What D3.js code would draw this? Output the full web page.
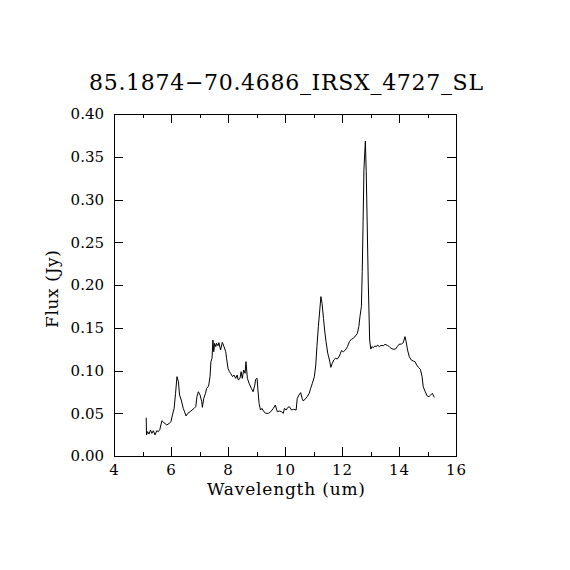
<!doctype html>
<html>
<head>
<meta charset="utf-8">
<title>85.1874-70.4686_IRSX_4727_SL</title>
<script src="https://d3js.org/d3.v7.min.js"></script>
<style>
 body { margin: 0; background: white; }
 text { font-family: "DejaVu Serif", "Liberation Serif", serif; fill: black; }
</style>
</head>
<body>
<script>
// spectrum: wavelength (um) and flux (Jy)
var wave = [5.13, 5.14, 5.18, 5.23, 5.28, 5.33, 5.38, 5.44, 5.50, 5.56, 5.61, 5.68, 5.75, 5.85, 5.94, 6.00,
  6.05, 6.11, 6.16, 6.21, 6.26, 6.30, 6.36, 6.43, 6.53, 6.59, 6.67, 6.74, 6.81, 6.87, 6.91, 6.96,
  7.02, 7.08, 7.10, 7.15, 7.21, 7.25, 7.32, 7.37, 7.40, 7.44, 7.47, 7.50, 7.53, 7.57, 7.60, 7.65,
  7.68, 7.74, 7.80, 7.86, 7.92, 7.95, 8.00, 8.05, 8.09, 8.16, 8.21, 8.27, 8.32, 8.36, 8.42, 8.46,
  8.50, 8.55, 8.60, 8.63, 8.68, 8.74, 8.82, 8.88, 8.94, 8.97, 9.02, 9.05, 9.09, 9.14, 9.19, 9.26,
  9.33, 9.42, 9.50, 9.59, 9.66, 9.73, 9.80, 9.88, 9.94, 9.98, 10.04, 10.09, 10.15, 10.23, 10.30,
  10.39, 10.43, 10.49, 10.55, 10.60, 10.64, 10.71, 10.78, 10.85, 10.90, 10.96, 11.03, 11.08, 11.12,
  11.17, 11.22, 11.26, 11.30, 11.35, 11.39, 11.44, 11.50, 11.56, 11.61, 11.66, 11.71, 11.77, 11.84,
  11.91, 11.98, 12.05, 12.12, 12.19, 12.26, 12.33, 12.40, 12.47, 12.54, 12.59, 12.63, 12.68, 12.71,
  12.74, 12.77, 12.82, 12.85, 12.89, 12.92, 12.97, 13.01, 13.05, 13.10, 13.15, 13.21, 13.25, 13.31,
  13.37, 13.45, 13.51, 13.59, 13.66, 13.72, 13.80, 13.88, 13.94, 14.00, 14.09, 14.15, 14.21, 14.25,
  14.30, 14.36, 14.43, 14.50, 14.56, 14.62, 14.68, 14.75, 14.81, 14.85, 14.92, 14.99, 15.05, 15.11,
  15.17, 15.24];
var flux = [0.0448, 0.0246, 0.0285, 0.0257, 0.0304, 0.0265, 0.0296, 0.0246, 0.0296, 0.0285, 0.0312, 0.0413,
  0.0390, 0.0363, 0.0382, 0.0402, 0.0480, 0.0557, 0.0733, 0.0928, 0.0869, 0.0713, 0.0655, 0.0557,
  0.0468, 0.0499, 0.0518, 0.0538, 0.0557, 0.0577, 0.0694, 0.0752, 0.0713, 0.0635, 0.0569, 0.0674,
  0.0733, 0.0791, 0.0819, 0.0928, 0.1103, 0.1142, 0.1357, 0.1220, 0.1318, 0.1279, 0.1318, 0.1290,
  0.1326, 0.1240, 0.1329, 0.1279, 0.1220, 0.1142, 0.1025, 0.0986, 0.0967, 0.0928, 0.0947, 0.0908,
  0.0947, 0.0889, 0.0908, 0.0986, 0.0908, 0.1006, 0.0967, 0.1103, 0.0908, 0.0850, 0.0791, 0.0752,
  0.0830, 0.0897, 0.0908, 0.0772, 0.0616, 0.0538, 0.0557, 0.0518, 0.0499, 0.0499, 0.0518, 0.0557,
  0.0596, 0.0518, 0.0526, 0.0518, 0.0499, 0.0557, 0.0538, 0.0565, 0.0577, 0.0538, 0.0546, 0.0538,
  0.0674, 0.0713, 0.0741, 0.0674, 0.0643, 0.0667, 0.0694, 0.0733, 0.0791, 0.0850, 0.0928, 0.1064,
  0.1279, 0.1513, 0.1708, 0.1864, 0.1786, 0.1610, 0.1474, 0.1337, 0.1201, 0.1123, 0.1037, 0.1084,
  0.1123, 0.1142, 0.1135, 0.1170, 0.1232, 0.1220, 0.1240, 0.1279, 0.1337, 0.1365, 0.1376, 0.1404,
  0.1435, 0.1513, 0.1630, 0.1747, 0.2156, 0.2740, 0.3353, 0.3684, 0.3325, 0.2608, 0.2047, 0.1357,
  0.1251, 0.1279, 0.1267, 0.1287, 0.1279, 0.1298, 0.1279, 0.1294, 0.1290, 0.1306, 0.1294, 0.1279,
  0.1259, 0.1248, 0.1251, 0.1279, 0.1306, 0.1310, 0.1326, 0.1396, 0.1337, 0.1240, 0.1162, 0.1123,
  0.1111, 0.1103, 0.1064, 0.1037, 0.1014, 0.0928, 0.0811, 0.0752, 0.0702, 0.0694, 0.0713, 0.0733,
  0.0686];

var xTicks = [4, 6, 8, 10, 12, 14, 16];
var xMinor = [5, 7, 9, 11, 13, 15];
var yTicks = [0, 0.05, 0.10, 0.15, 0.20, 0.25, 0.30, 0.35, 0.40];

var titel = "85.1874\u221270.4686_IRSX_4727_SL";

var W = 570, H = 570;
var x0 = 114, x1 = 456, y0 = 456, y1 = 114;

var svg = d3.select("body").append("svg")
    .attr("width", W)
    .attr("height", H);

var x = d3.scaleLinear().domain([4, 16]).range([x0, x1]);
var y = d3.scaleLinear().domain([0, 0.40]).range([y0, y1]);

//caixa
svg.append("rect")
    .attr("x", x0).attr("y", y1)
    .attr("width", x1 - x0).attr("height", y0 - y1)
    .attr("fill", "none").attr("stroke", "black")
    .attr("shape-rendering", "crispEdges");

//eixo X de baixo, com os rotulos
var gx = svg.append("g")
    .attr("transform", "translate(0," + y0 + ")")
    .call(d3.axisBottom(x).tickValues(xTicks).tickSize(-9).tickPadding(8)
        .tickFormat(d3.format("d")));
gx.selectAll("text").attr("font-size", 15).attr("font-family", "DejaVu Serif")
    .attr("letter-spacing", 1);

svg.append("g")
    .attr("transform", "translate(0," + y0 + ")")
    .call(d3.axisBottom(x).tickValues(xMinor).tickSize(-4).tickFormat(""));

//eixo X de cima
svg.append("g")
    .attr("transform", "translate(0," + y1 + ")")
    .call(d3.axisTop(x).tickValues(xTicks).tickSize(-9).tickFormat(""));
svg.append("g")
    .attr("transform", "translate(0," + y1 + ")")
    .call(d3.axisTop(x).tickValues(xMinor).tickSize(-4).tickFormat(""));

//eixo Y esquerda
var gy = svg.append("g")
    .attr("transform", "translate(" + x0 + ",0)")
    .call(d3.axisLeft(y).tickValues(yTicks).tickSize(-9).tickPadding(10)
        .tickFormat(d3.format(".2f")));
gy.selectAll("text").attr("font-size", 15).attr("font-family", "DejaVu Serif");

//eixo Y direita
svg.append("g")
    .attr("transform", "translate(" + x1 + ",0)")
    .call(d3.axisRight(y).tickValues(yTicks).tickSize(-9).tickFormat(""));

svg.selectAll(".domain").remove();
svg.selectAll(".tick line").attr("shape-rendering", "crispEdges");

//espectro
var pts = wave.map(function(w, i) { return [w, flux[i]]; });
var linha = d3.line()
    .x(function(d) { return x(d[0]); })
    .y(function(d) { return y(d[1]); });

svg.append("path")
    .datum(pts)
    .attr("d", linha)
    .attr("fill", "none")
    .attr("stroke", "black")
    .attr("stroke-width", 1);

//titulo e rotulos
svg.append("text")
    .attr("x", 89)
    .attr("y", 90)
    .attr("font-size", 22)
    .attr("textLength", 394)
    .attr("lengthAdjust", "spacing")
    .text(titel);

svg.append("text")
    .attr("x", 207)
    .attr("y", 495)
    .attr("font-size", 17)
    .attr("textLength", 158)
    .attr("lengthAdjust", "spacing")
    .text("Wavelength (um)");

svg.append("text")
    .attr("transform", "translate(58,328) rotate(-90)")
    .attr("font-size", 17)
    .attr("textLength", 78)
    .attr("lengthAdjust", "spacing")
    .text("Flux (Jy)");
</script>
</body>
</html>
